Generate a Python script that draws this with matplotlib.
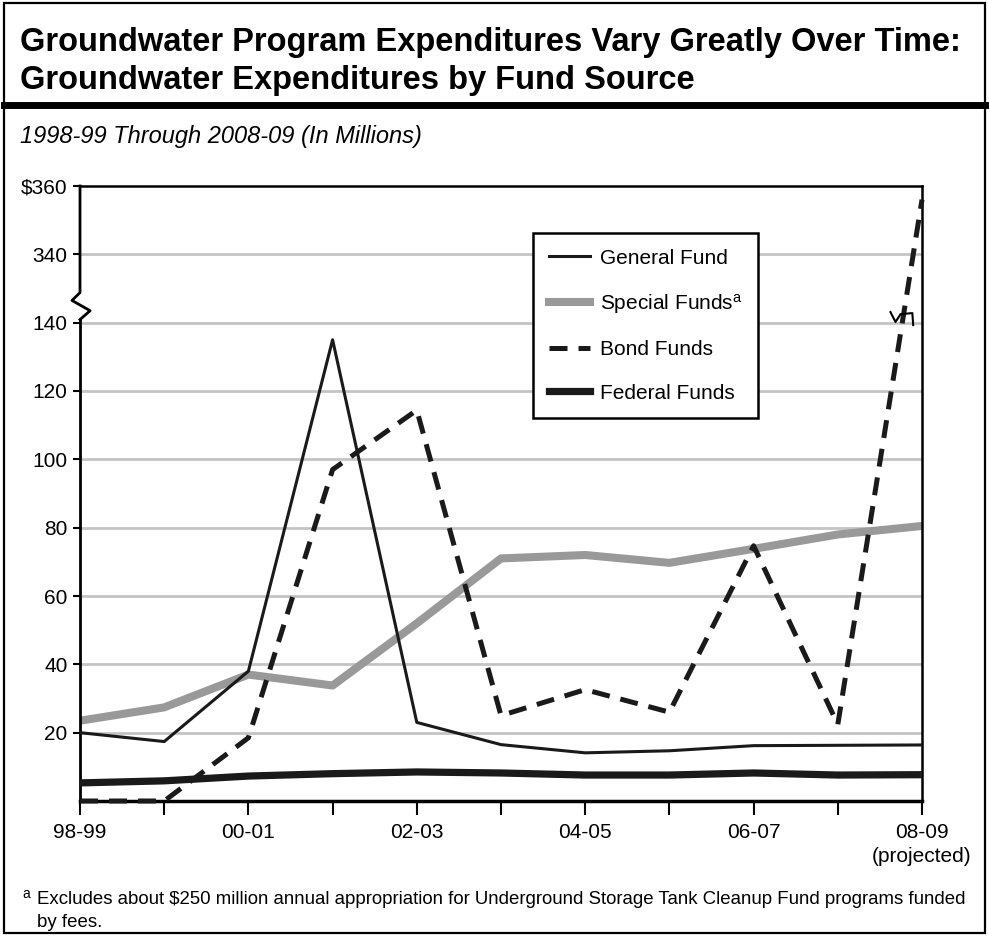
import matplotlib.pyplot as plt
from matplotlib.patches import Rectangle
from matplotlib.lines import Line2D

plt.rcParams['font.family'] = ['Liberation Sans', 'DejaVu Sans']
plt.rcParams['mathtext.default'] = 'regular'

# Data (millions of dollars)
years = ['98-99', '99-00', '00-01', '01-02', '02-03', '03-04',
         '04-05', '05-06', '06-07', '07-08', '08-09']
general_fund = [20, 17.4, 38, 135, 23, 16.5, 14.1, 14.7, 16.2, 16.3, 16.4]
special_funds = [23.5, 27.4, 37, 33.8, 52, 71, 72, 69.7, 73.8, 78, 80.5]
bond_funds = [0, 0, 18.5, 97, 114.4, 25, 32.6, 26, 74.7, 22.4, 356]
federal_funds = [5.3, 5.9, 7.3, 8, 8.5, 8.2, 7.6, 7.6, 8.2, 7.6, 7.7]

tick_values = [20, 40, 60, 80, 100, 120, 140, 340, 360]
tick_labels = ['20', '40', '60', '80', '100', '120', '140', '340', '$360']

# broken axis: values from 340 up are shifted down so 340 sits one grid step above 140
GAP = 180


def squash(v):
    return v - GAP if v >= 340 else v


x = list(range(len(years)))

fig = plt.figure(figsize=(9.89, 9.36), dpi=100)
ax = fig.add_axes([80 / 989, 1 - 801 / 936, 842 / 989, 615 / 936])

for v in tick_values[:-1]:
    ax.axhline(squash(v), color='#c4c4c4', lw=2, zorder=0)

ax.plot(x, general_fund, color='#1a1a1a', lw=2.2, label='General Fund', zorder=3)
ax.plot(x, special_funds, color='#999999', lw=5.8, label='Special Funds$^{a}$', zorder=2)
ax.plot(x, [squash(v) for v in bond_funds], color='#1a1a1a', lw=3.6,
        dashes=(3.6, 2.2), label='Bond Funds', zorder=4, clip_on=False)
ax.plot(x, federal_funds, color='#1a1a1a', lw=5.2, label='Federal Funds', zorder=3)

ax.set_xlim(0, 10)
ax.set_ylim(0, 180)
ax.set_yticks([squash(v) for v in tick_values])
ax.set_yticklabels(tick_labels, fontsize=15)
xlabels = [y if i % 2 == 0 else '' for i, y in enumerate(years)]
xlabels[-1] = '08-09\n(projected)'
ax.set_xticks(x)
ax.set_xticklabels(xlabels, fontsize=15, linespacing=1.35, va='top')
ax.tick_params(axis='x', direction='out', length=10, width=1.5, pad=6)
ax.tick_params(axis='y', direction='out', length=5, width=1.5, pad=4)

for s in ['top', 'right', 'bottom']:
    ax.spines[s].set_color('black')
    ax.spines[s].set_linewidth(1.8)
ax.spines['bottom'].set_linewidth(2.5)
ax.spines['left'].set_visible(False)

# left spine with break zigzag
ax.add_line(Line2D([0, 0], [0, 140.9], color='black', lw=2, clip_on=False))
ax.add_line(Line2D([0, 0.12, -0.095, 0, 0], [140.9, 143.5, 146.5, 148.8, 180],
                   color='black', lw=2, clip_on=False))

# break mark on the bond line
x0, y0 = 9, squash(bond_funds[9])
x1, y1 = 10, squash(bond_funds[10])
yc = 141.5
xc = x0 + (yc - y0) / (y1 - y0) * (x1 - x0)
bx = [-0.15, -0.09, -0.03, 0.11, 0.12]
by = [1.6, -1.3, 1.0, 1.3, -2.2]
ax.add_line(Line2D([xc + d for d in bx], [yc + d for d in by],
                   color='black', lw=1.5, zorder=5, clip_on=False))

leg = ax.legend(loc='upper left', bbox_to_anchor=(533 / 989, 1 - 233 / 936),
                bbox_transform=fig.transFigure, fontsize=15, frameon=True,
                fancybox=False, framealpha=1, edgecolor='black',
                handlelength=2.0, handletextpad=0.45, labelspacing=1.17,
                borderpad=0.75, borderaxespad=0)
leg.get_frame().set_linewidth(1.8)

# frame, header and notes
fig.add_artist(Rectangle((4 / 989, 3 / 936), 981 / 989, 930 / 936,
                         transform=fig.transFigure, fill=False, lw=1.6, ec='black'))
fig.add_artist(Line2D([4 / 989, 985 / 989], [1 - 105 / 936] * 2,
                      transform=fig.transFigure, color='black', lw=5))
fig.text(20 / 989, 1 - 42 / 936, 'Groundwater Program Expenditures Vary Greatly Over Time:',
         fontsize=23.5, fontweight='bold', va='center', ha='left')
fig.text(20 / 989, 1 - 80 / 936, 'Groundwater Expenditures by Fund Source',
         fontsize=23.5, fontweight='bold', va='center', ha='left')
fig.text(20 / 989, 1 - 137 / 936, '1998-99 Through 2008-09 (In Millions)',
         fontsize=17, style='italic', va='center', ha='left')

fig.text(22 / 989, 1 - 894 / 936, 'a', fontsize=10, va='center', ha='left')
fig.text(37 / 989, 1 - 911 / 936,
         'Excludes about \\$250 million annual appropriation for Underground Storage Tank Cleanup Fund programs funded\nby fees.',
         fontsize=13.4, va='center', ha='left', linespacing=1.4)

fig.savefig('out.png', dpi=100)
